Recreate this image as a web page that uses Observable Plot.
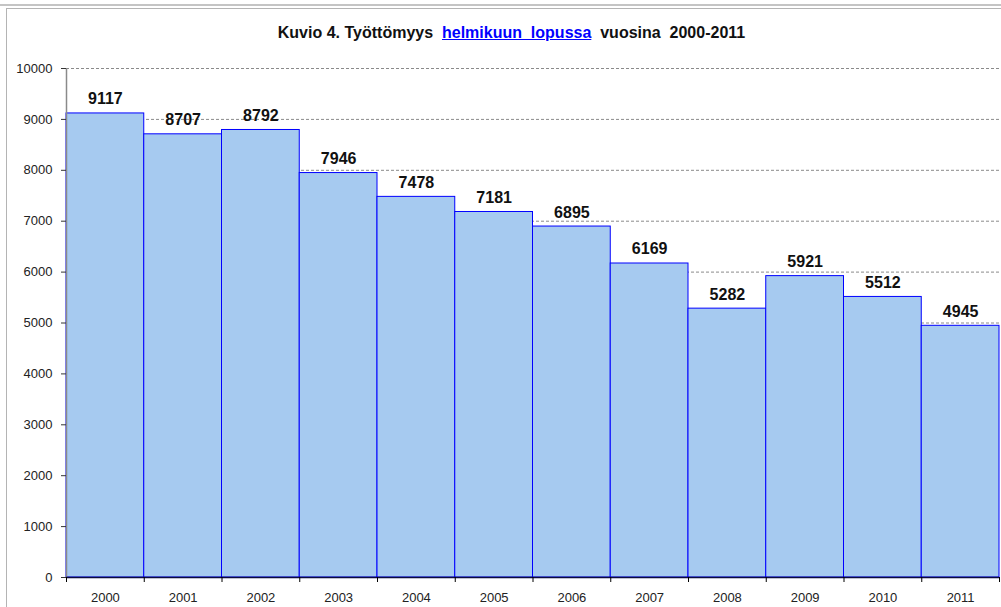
<!DOCTYPE html>
<html>
<head>
<meta charset="utf-8">
<script src="https://cdn.jsdelivr.net/npm/d3@7"></script>
<script src="https://cdn.jsdelivr.net/npm/@observablehq/plot@0.6"></script>
<style>
  html, body { margin: 0; padding: 0; background: #fff; }
  #wrap { position: relative; width: 1001px; height: 607px; overflow: hidden; font-family: "Liberation Sans", Arial, sans-serif; }
  #topline { position: absolute; left: 0; top: 4px; width: 1001px; height: 0; border-top: 2px solid #c4c4c4; }
  #frame { position: absolute; left: 6px; top: 8px; width: 1010px; height: 620px; border-left: 1px solid #b4b4b4; border-top: 1px solid #b4b4b4; box-sizing: border-box; }
  #title { height: 26px; padding-top: 24px; text-align: center; font-weight: bold; font-size: 16px; line-height: 18px; color: #111; padding-left: 22px; }
  #title a { color: #0000ff; text-decoration: underline; }
  #chart svg { display: block; }
</style>
</head>
<body>
<div id="wrap">
  <div id="topline"></div>
  <div id="frame"></div>
  <div id="title">Kuvio 4. Työttömyys&nbsp; <a href="#">helmikuun&nbsp; lopussa</a>&nbsp; vuosina&nbsp; 2000-2011</div>
  <div id="chart"></div>
</div>
<script>
const years = [2000, 2001, 2002, 2003, 2004, 2005, 2006, 2007, 2008, 2009, 2010, 2011];
const values = [9117, 8707, 8792, 7946, 7478, 7181, 6895, 6169, 5282, 5921, 5512, 4945];
const yTicks = [0, 1000, 2000, 3000, 4000, 5000, 6000, 7000, 8000, 9000, 10000];

const data = years.map((year, i) => ({year, value: values[i]}));
const boundaries = years.map(y => y - 0.5).concat([years[years.length - 1] + 0.5]);

const chart = Plot.plot({
  width: 1001,
  height: 557,
  marginTop: 18,
  marginBottom: 30,
  marginLeft: 66,
  marginRight: 2,
  style: {fontFamily: "'Liberation Sans', Arial, sans-serif", fontSize: "13px", color: "#222", background: "#fff"},
  x: {domain: [years[0] - 0.5, years[years.length - 1] + 0.5], axis: null},
  y: {domain: [0, 10000], axis: null},
  marks: [
    Plot.gridY(yTicks.slice(1), {stroke: "#8a8a8a", strokeOpacity: 1, strokeDasharray: "3,2"}),
    Plot.rectY(data, {x1: d => d.year - 0.5, x2: d => d.year + 0.5, y: "value", fill: "#a6caf0", stroke: "#0000ff", strokeWidth: 1}),
    Plot.ruleX([years[0] - 0.5], {stroke: "#8a8a8a", strokeWidth: 1.5}),
    Plot.ruleY([0], {stroke: "#0a0a40", strokeWidth: 1.5}),
    Plot.axisY(yTicks, {tickSize: 5, tickPadding: 9, tickFormat: d => String(d), stroke: "#333", fontSize: 13, label: null}),
    Plot.axisX(boundaries, {tickSize: 5, tickFormat: () => "", stroke: "#000", label: null}),
    Plot.axisX(years, {tickSize: 0, tickPadding: 15, tickFormat: d => String(d), fontSize: 13, label: null}),
    Plot.text(data, {x: "year", y: "value", text: d => String(d.value), lineAnchor: "bottom", dy: -9, fontWeight: "bold", fontSize: 16, fill: "#111"})
  ]
});
document.getElementById("chart").appendChild(chart);
</script>
</body>
</html>
